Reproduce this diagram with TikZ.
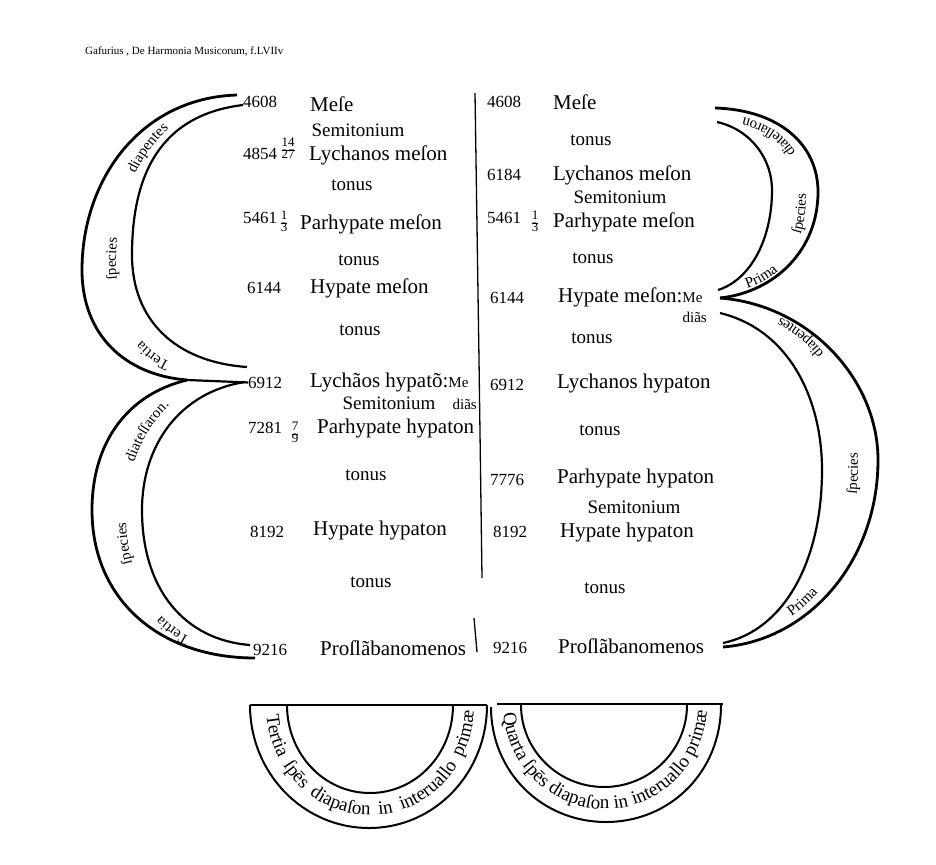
\documentclass[tikz,border=0pt]{standalone}
\usepackage{fontspec}
\setmainfont{Liberation Serif}
\usetikzlibrary{decorations.text}

\newcommand\crfont{\fontsize{15}{15}\selectfont}
\newcommand\semifont{\fontsize{19}{19}\selectfont}
\newcommand\frc[2]{{\fontsize{13}{13}\selectfont\renewcommand\arraystretch{0.8}%
  \begin{tabular}[c]{@{}c@{}}#1\\\hline #2\end{tabular}}}

\begin{document}
\begin{tikzpicture}[x=1pt,y=-1pt,line join=round,
  pitch/.style={anchor=base west,inner sep=0pt,font=\fontsize{21}{21}\selectfont},
  num/.style={anchor=base west,inner sep=0pt,font=\fontsize{17}{17}\selectfont},
  interval/.style={anchor=base,inner sep=0pt,font=\fontsize{19}{19}\selectfont},
  small note/.style={anchor=base east,inner sep=0pt,font=\fontsize{15}{15}\selectfont},
  frac node/.style={inner sep=0pt},
  outer arc/.style={line width=2.8pt},
  inner arc/.style={line width=2.2pt},
  bow/.style={line width=2pt},
  arc text/.style={decorate,decoration={text along path,text={#1}}}]

\path[fill=white,use as bounding box] (0,0) rectangle (936,864);

\node[anchor=base west,inner sep=0pt,font=\fontsize{11}{11}\selectfont] (title) at (85,55)
  {Gafurius , De Harmonia Musicorum, f.LVIIv};

% left column
\node[num] (l1) at (243,108) {4608};
\node[pitch] (a1) at (310,111) {Meſe};
\node[interval] (t1) at (358,136) {Semitonium};
\node[num] (l2) at (243,159) {4854};
\node[frac node] (f1) at (288,150) {\frc{14}{27}};
\node[pitch] (a2) at (309,160) {Lychanos meſon};
\node[interval] (t2) at (352,190) {tonus};
\node[num] (l3) at (243,223) {5461};
\node[frac node] (f2) at (284,223) {\frc{1}{3}};
\node[pitch] (a3) at (300,229) {Parhypate meſon};
\node[interval] (t3) at (359,265) {tonus};
\node[num] (l4) at (247,293) {6144};
\node[pitch] (a4) at (310,293) {Hypate meſon};
\node[interval] (t4) at (360,335) {tonus};
\node[num] (l5) at (248,388) {6912};
\node[pitch] (a5) at (310,387) {Lychãos hypatõ:{\fontsize{15}{15}\selectfont Me}};
\node[interval] (t5) at (389,409) {Semitonium};
\node[small note] (d1) at (477,409) {diãs};
\node[num] (l6) at (248,433) {7281};
\node[frac node] (f3) at (295,434) {\frc{7}{9}};
\node[pitch] (a6) at (317,433) {Parhypate hypaton};
\node[interval] (t6) at (366,480) {tonus};
\node[num] (l7) at (250,537) {8192};
\node[pitch] (a7) at (313,535) {Hypate hypaton};
\node[interval] (t7) at (371,587) {tonus};
\node[num] (l8) at (253,655) {9216};
\node[pitch] (a8) at (320,655) {Proſlãbanomenos};

% right column
\node[num] (r1) at (487,108) {4608};
\node[pitch] (b1) at (553,110) {Meſe};
\node[interval] (u1) at (591,145) {tonus};
\node[num] (r2) at (487,180) {6184};
\node[pitch] (b2) at (553,180) {Lychanos meſon};
\node[interval] (u2) at (620,203) {Semitonium};
\node[num] (r3) at (487,223) {5461};
\node[frac node] (g1) at (535,223) {\frc{1}{3}};
\node[pitch] (b3) at (553,227) {Parhypate meſon};
\node[interval] (u3) at (593,263) {tonus};
\node[num] (r4) at (490,303) {6144};
\node[pitch] (b4) at (558,302) {Hypate meſon:{\fontsize{15}{15}\selectfont Me}};
\node[small note] (d2) at (707,322) {diãs};
\node[interval] (u4) at (592,343) {tonus};
\node[num] (r5) at (490,390) {6912};
\node[pitch] (b5) at (557,388) {Lychanos hypaton};
\node[interval] (u5) at (600,435) {tonus};
\node[num] (r6) at (490,485) {7776};
\node[pitch] (b6) at (557,483) {Parhypate hypaton};
\node[interval] (u6) at (634,513) {Semitonium};
\node[num] (r7) at (493,537) {8192};
\node[pitch] (b7) at (560,537) {Hypate hypaton};
\node[interval] (u7) at (605,593) {tonus};
\node[num] (r8) at (493,653) {9216};
\node[pitch] (b8) at (558,653) {Proſlãbanomenos};

% dividing line
\draw[line width=1.3pt] (475,93) -- (479,360) -- (482,578);
\draw[line width=1.3pt] (474,618) -- (477,652);

% crescents
\coordinate (lm) at (187,380);
\coordinate (rm) at (720,298);
\draw[outer arc] (237,95) .. controls (140,98) and (82,180) .. (82,270)
  .. controls (82,335) and (125,375) .. (lm);
\draw[inner arc] (243,105) .. controls (160,115) and (132,175) .. (132,255)
  .. controls (132,320) and (175,362) .. (247,367);
\draw[inner arc] (lm) -- (l5.west);
\draw[outer arc] (lm) .. controls (125,395) and (92,445) .. (92,510)
  .. controls (92,600) and (160,658) .. (255,658);
\draw[inner arc] (245,382) .. controls (180,392) and (142,445) .. (142,510)
  .. controls (142,590) and (185,640) .. (250,645);

\draw[outer arc] (715,108) .. controls (780,110) and (818,145) .. (818,192)
  .. controls (818,250) and (775,292) .. (rm);
\draw[inner arc] (717,122) .. controls (752,130) and (772,160) .. (772,190)
  .. controls (772,240) and (750,280) .. (718,290);
\draw[outer arc] (rm) .. controls (810,305) and (878,380) .. (878,460)
  .. controls (878,560) and (810,640) .. (723,647);
\draw[inner arc] (720,313) .. controls (790,330) and (822,400) .. (822,470)
  .. controls (822,560) and (785,630) .. (723,643);

\path[arc text={|\crfont|Tertia ſpecies diapentes},
  decoration={text align={left indent=36pt,right indent=76pt,fit to path stretching spaces}}]
  (205,370) .. controls (150,368) and (116,325) .. (116,262)
  .. controls (116,185) and (155,108) .. (238,100);
\path[arc text={|\crfont|Tertia ſpecies diateſſaron.},
  decoration={text align={left indent=52pt,right indent=52pt,fit to path stretching spaces}}]
  (240,650) .. controls (165,645) and (126,590) .. (126,515)
  .. controls (126,450) and (160,395) .. (215,381);
\path[arc text={|\crfont|Prima ſpecies diateſſaron},
  decoration={text align={left indent=26pt,right indent=28pt,fit to path stretching spaces}}]
  (722,294) .. controls (790,285) and (806,240) .. (806,195)
  .. controls (806,150) and (780,118) .. (716,114);
\path[arc text={|\crfont|Prima ſpecies diapentes},
  decoration={text align={left indent=62pt,right indent=48pt,fit to path stretching spaces}}]
  (735,641) .. controls (815,622) and (858,560) .. (858,465)
  .. controls (858,380) and (815,315) .. (735,303);

% half circles
\draw[line width=1.5pt] (250,705) -- (487,705);
\draw[bow] (250,705) .. controls (250,773) and (303,828) .. (369,828)
  .. controls (435,828) and (487,773) .. (487,705);
\draw[bow] (287,705) .. controls (287,754) and (324,793) .. (370,793)
  .. controls (416,793) and (453,754) .. (453,705);
\draw[line width=1.5pt] (497,704) -- (723,704);
\draw[bow] (491,707) .. controls (491,772) and (542,822) .. (606,822)
  .. controls (670,822) and (721,772) .. (721,705);
\draw[bow] (521,705) .. controls (521,750) and (558,787) .. (604,787)
  .. controls (650,787) and (687,750) .. (687,705);

\path[arc text={|\semifont|Tertia ſpēs diapaſon in interuallo primæ},
  decoration={text align={left indent=10pt,right indent=6pt,fit to path stretching spaces}}]
  (266,705) .. controls (266,766) and (312,815) .. (370,815)
  .. controls (428,815) and (474,766) .. (474,705);
\path[arc text={|\semifont|Quarta ſpēs diapaſon in interuallo primæ},
  decoration={text align={left indent=8pt,right indent=6pt,fit to path stretching spaces}}]
  (503,705) .. controls (503,762) and (549,809) .. (605,809)
  .. controls (661,809) and (707,762) .. (707,705);

\end{tikzpicture}
\end{document}
